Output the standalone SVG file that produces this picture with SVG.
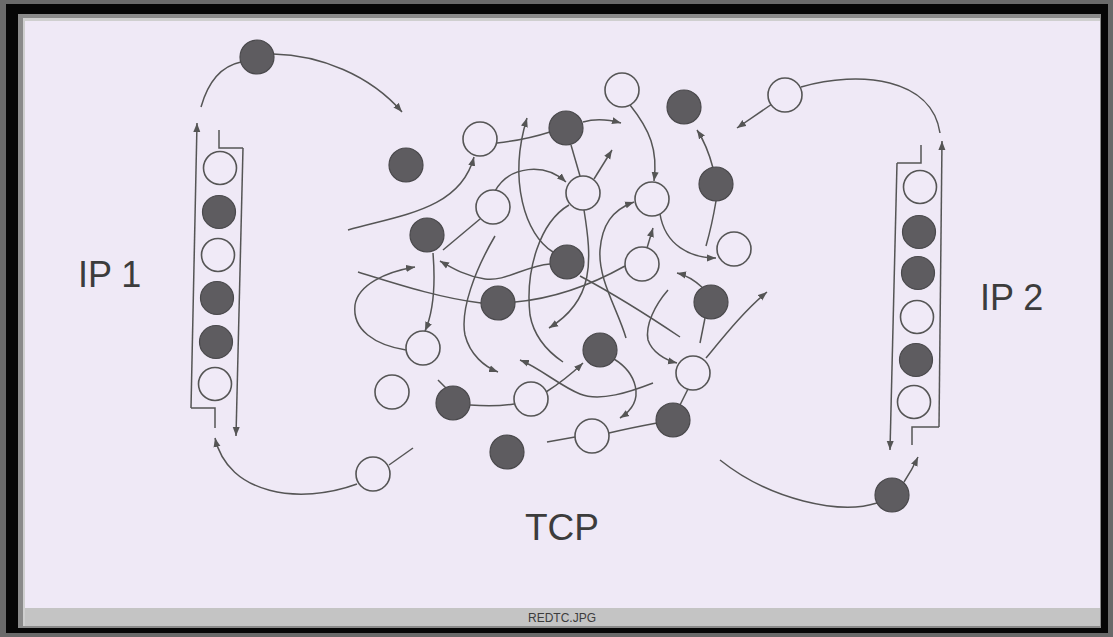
<svg xmlns="http://www.w3.org/2000/svg" width="1113" height="637" viewBox="0 0 1113 637">
<style>
.w{fill:#f0eaf7;stroke:#555;stroke-width:1.6}
.d{fill:#5e5c60;stroke:#4a494c;stroke-width:1.2}
.c{fill:none;stroke:#555;stroke-width:1.5}
.a{marker-end:url(#ah)}
.lbl{font-family:"Liberation Sans",Arial,sans-serif;fill:#3c3c3c}
</style>
<defs>
<marker id="ah" markerWidth="10" markerHeight="8" refX="9" refY="4" orient="auto" markerUnits="userSpaceOnUse">
<path d="M0,0.5 L9,4 L0,7.5 z" fill="#555"/>
</marker>
</defs>
<!-- frame -->
<rect x="0" y="0" width="1113" height="637" fill="#6a6a6a"/>
<rect x="6" y="4" width="1102" height="629" fill="#060606"/>
<rect x="18" y="14" width="1083" height="614" fill="#8a8a8a"/>
<rect x="23" y="18" width="1077" height="608" fill="#cfcfcf"/>
<rect x="25" y="21" width="1075" height="587" fill="#efe9f6"/>
<rect x="25" y="608" width="1075" height="18" fill="#c4c4c4"/>
<text class="lbl" x="562" y="622" font-size="12" text-anchor="middle" fill="#222">REDTC.JPG</text>

<g id="connectors">
<!-- IP1 -->
<path class="c a" d="M191,408 L197,123"/>
<path class="c" d="M191,408 L215,408 L215,428"/>
<path class="c" d="M219,130 L219,148 L243,148"/>
<path class="c a" d="M243,148 L236,436"/>
<path class="c" d="M201,107 Q212,68 241,62"/>
<path class="c a" d="M273,54 C320,55 370,75 402,112"/>
<path class="c a" d="M357,484 C300,505 228,495 215,438"/>
<path class="c" d="M389,465 L413,448"/>
<!-- IP2 -->
<path class="c" d="M801,87 C860,70 932,78 940,133"/>
<path class="c a" d="M939,427 L942,141"/>
<path class="c" d="M939,427 L912,427 L912,445"/>
<path class="c" d="M921,145 L921,163 L897,163"/>
<path class="c a" d="M897,163 L890,450"/>
<path class="c a" d="M772,104 L737,128"/>
<path class="c" d="M720,460 C770,500 840,515 877,503"/>
<path class="c a" d="M904,482 Q912,470 918,457"/>
<!-- centre -->
<path class="c" d="M497,143 Q525,140 550,132"/>
<path class="c a" d="M583,122 Q600,117 621,123"/>
<path class="c a" d="M348,230 C400,215 460,210 474,157"/>
<path class="c a" d="M553,252 C525,235 508,180 527,118"/>
<path class="c a" d="M495,191 C510,165 545,163 566,182"/>
<path class="c a" d="M594,179 L612,150"/>
<path class="c" d="M571,145 L580,176"/>
<path class="c a" d="M630,105 C650,130 658,150 654,181"/>
<path class="c a" d="M713,168 Q707,145 697,130"/>
<path class="c" d="M716,201 Q712,225 706,246"/>
<path class="c a" d="M660,214 C665,245 690,258 716,258"/>
<path class="c a" d="M626,338 C618,310 598,280 600,250 C602,225 612,210 634,202"/>
<path class="c a" d="M584,210 C592,260 595,300 549,328"/>
<path class="c" d="M569,205 C540,222 525,270 530,315 Q535,343 563,362"/>
<path class="c" d="M358,272 C400,285 440,298 481,303"/>
<path class="c" d="M515,302 C560,298 600,280 625,266"/>
<path class="c a" d="M647,248 L653,228"/>
<path class="c a" d="M406,350 C375,345 352,330 355,305 C358,285 385,272 415,267"/>
<path class="c a" d="M433,253 C436,290 432,315 425,331"/>
<path class="c" d="M480,219 L443,250"/>
<path class="c a" d="M550,264 C525,266 505,282 485,279 C465,276 452,268 440,261"/>
<path class="c a" d="M495,236 C475,270 460,310 465,335 C470,355 485,367 498,372"/>
<path class="c" d="M580,276 Q625,300 680,337"/>
<path class="c a" d="M703,288 Q690,276 677,273"/>
<path class="c a" d="M668,290 C655,305 645,325 648,340 C652,352 665,360 677,363"/>
<path class="c a" d="M706,358 C725,335 745,310 767,292"/>
<path class="c" d="M705,318 L700,343"/>
<path class="c" d="M688,389 L680,405"/>
<path class="c" d="M657,423 Q630,428 609,433"/>
<path class="c" d="M575,437 L547,442"/>
<path class="c a" d="M614,359 C635,372 648,400 620,418"/>
<path class="c a" d="M546,392 Q565,380 583,363"/>
<path class="c a" d="M653,383 C630,392 600,402 580,394 C560,386 540,368 520,360"/>
<path class="c" d="M438,380 L447,389"/>
<path class="c" d="M470,405 Q495,407 514,404"/>
</g>

<g id="ip1-stack">
<circle class="w" cx="220" cy="168" r="16.5"/>
<circle class="d" cx="219" cy="212" r="16.5"/>
<circle class="w" cx="218" cy="255" r="16.5"/>
<circle class="d" cx="217" cy="298" r="16.5"/>
<circle class="d" cx="216" cy="342" r="16.5"/>
<circle class="w" cx="215" cy="384" r="16.5"/>
</g>
<g id="ip2-stack">
<circle class="w" cx="920" cy="187" r="16.5"/>
<circle class="d" cx="919" cy="232" r="16.5"/>
<circle class="d" cx="918" cy="273" r="16.5"/>
<circle class="w" cx="917" cy="317" r="16.5"/>
<circle class="d" cx="916" cy="360" r="16.5"/>
<circle class="w" cx="914" cy="402" r="16.5"/>
</g>

<g id="n-d13"><circle class="d" cx="257" cy="57" r="17"/></g>
<g id="n-w14"><circle class="w" cx="785" cy="95" r="17"/></g>
<g id="n-w13"><circle class="w" cx="373" cy="474" r="17"/></g>
<g id="n-d14"><circle class="d" cx="892" cy="495" r="17"/></g>
<g id="n-w1"><circle class="w" cx="622" cy="90" r="17"/></g>
<g id="n-d1"><circle class="d" cx="684" cy="107" r="17"/></g>
<g id="n-w2"><circle class="w" cx="480" cy="139" r="17"/></g>
<g id="n-d2"><circle class="d" cx="566" cy="128" r="17"/></g>
<g id="n-d3"><circle class="d" cx="406" cy="165" r="17"/></g>
<g id="n-w3"><circle class="w" cx="493" cy="207" r="17"/></g>
<g id="n-w4"><circle class="w" cx="583" cy="193" r="17"/></g>
<g id="n-w5"><circle class="w" cx="652" cy="199" r="17"/></g>
<g id="n-d4"><circle class="d" cx="716" cy="184" r="17"/></g>
<g id="n-d5"><circle class="d" cx="427" cy="235" r="17"/></g>
<g id="n-d6"><circle class="d" cx="567" cy="262" r="17"/></g>
<g id="n-w6"><circle class="w" cx="642" cy="264" r="17"/></g>
<g id="n-w7"><circle class="w" cx="734" cy="249" r="17"/></g>
<g id="n-d7"><circle class="d" cx="498" cy="303" r="17"/></g>
<g id="n-d8"><circle class="d" cx="711" cy="302" r="17"/></g>
<g id="n-w8"><circle class="w" cx="423" cy="348" r="17"/></g>
<g id="n-w9"><circle class="w" cx="392" cy="392" r="17"/></g>
<g id="n-d9"><circle class="d" cx="453" cy="403" r="17"/></g>
<g id="n-w10"><circle class="w" cx="531" cy="399" r="17"/></g>
<g id="n-d10"><circle class="d" cx="600" cy="350" r="17"/></g>
<g id="n-w11"><circle class="w" cx="693" cy="373" r="17"/></g>
<g id="n-d11"><circle class="d" cx="673" cy="420" r="17"/></g>
<g id="n-w12"><circle class="w" cx="592" cy="436" r="17"/></g>
<g id="n-d12"><circle class="d" cx="507" cy="452" r="17"/></g>

<g id="labels">
<text class="lbl" x="78" y="287" font-size="36">IP 1</text>
<text class="lbl" x="980" y="310" font-size="36">IP 2</text>
<text class="lbl" x="525" y="540" font-size="37">TCP</text>
</g>
</svg>
